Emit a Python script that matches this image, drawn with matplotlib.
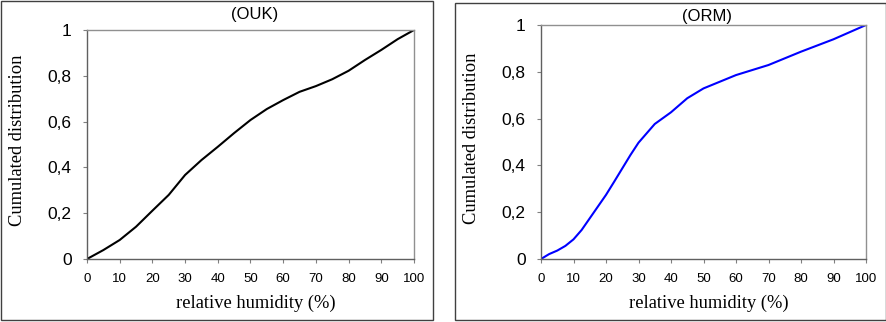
import numpy as np
import matplotlib
matplotlib.use('Agg')
import matplotlib.pyplot as plt
from matplotlib.patches import Rectangle

ouk_rh = [0, 5, 10, 15, 20, 25, 30, 35, 40, 45, 50, 55, 60, 65, 70, 75, 80, 85, 90, 95, 100]
ouk_cd = [0, 0.039, 0.083, 0.141, 0.211, 0.28, 0.367, 0.432, 0.49, 0.55, 0.607,
          0.655, 0.694, 0.73, 0.755, 0.785, 0.822, 0.869, 0.913, 0.96, 1.0]

orm_rh = [0, 2.5, 5, 7.5, 10, 12.5, 15, 17.5, 20, 22.5, 25, 27.5, 30, 35, 40, 45,
          50, 60, 70, 80, 90, 100]
orm_cd = [0, 0.021, 0.036, 0.056, 0.084, 0.124, 0.174, 0.224, 0.274, 0.33, 0.387,
          0.444, 0.497, 0.577, 0.627, 0.687, 0.729, 0.786, 0.829, 0.886, 0.939, 1.0]

x_ticks = [0, 10, 20, 30, 40, 50, 60, 70, 80, 90, 100]
y_ticks = [0, 0.2, 0.4, 0.6, 0.8, 1.0]
y_labels = ['0', '0,2', '0,4', '0,6', '0,8', '1']

W, H = 887, 322
fig = plt.figure(figsize=(W / 100, H / 100), dpi=100)

# outer frames round each chart
for x0, x1, y0 in [(1, 433, 1), (455, 886, 3)]:
    fig.add_artist(Rectangle((x0 / W, 1 - 320 / H), (x1 - x0) / W, (320 - y0) / H,
                             transform=fig.transFigure, fill=False,
                             edgecolor='#404040', linewidth=1.0))

panels = [
    # (left, right, top, bottom) in pixels, data, colour, title, title y
    ((87, 414, 30, 259), ouk_rh, ouk_cd, 'black', '(OUK)', 15),
    ((541, 866, 25, 259), orm_rh, orm_cd, '#0000ff', '(ORM)', 17),
]

for (l, r, t, b), xs, ys, col, title, ty in panels:
    ax = fig.add_axes([l / W, 1 - b / H, (r - l) / W, (b - t) / H])
    ax.plot(xs, ys, color=col, linewidth=1.5)
    ax.set_xlim(0, 100)
    ax.set_ylim(0, 1)
    ax.set_xticks(x_ticks)
    ax.set_xticklabels([str(v) for v in x_ticks], fontsize=9.5,
                       family='Liberation Sans')
    ax.set_yticks(y_ticks)
    ax.set_yticklabels(y_labels, fontsize=12.5, family='Liberation Sans')
    ax.tick_params(axis='both', length=3, width=0.8, color='#808080')
    ax.tick_params(axis='x', pad=7)
    ax.tick_params(axis='y', pad=8)
    for s in ax.spines.values():
        s.set_color('#909090')
        s.set_linewidth(1.0)
    ax.spines['left'].set_color('#606060')
    ax.spines['bottom'].set_color('#606060')
    ax.set_xlabel('relative humidity (%)', family='Liberation Serif', fontsize=13.3)
    ax.set_ylabel('Cumulated distribution', family='Liberation Serif', fontsize=13.3)
    w_px, h_px = r - l, b - t
    ax.xaxis.set_label_coords(0.5 + 5 / w_px, -44 / h_px)
    ax.yaxis.set_label_coords(-69 / w_px, 0.5 + 4 / h_px)
    ax.xaxis.label.set_va('center')
    ax.yaxis.label.set_va('center')
    fig.text(((l + r) / 2 + 4) / W, 1 - ty / H, title, ha='center', va='center',
             fontsize=12, family='Liberation Sans')

plt.savefig('out.png', dpi=100)
